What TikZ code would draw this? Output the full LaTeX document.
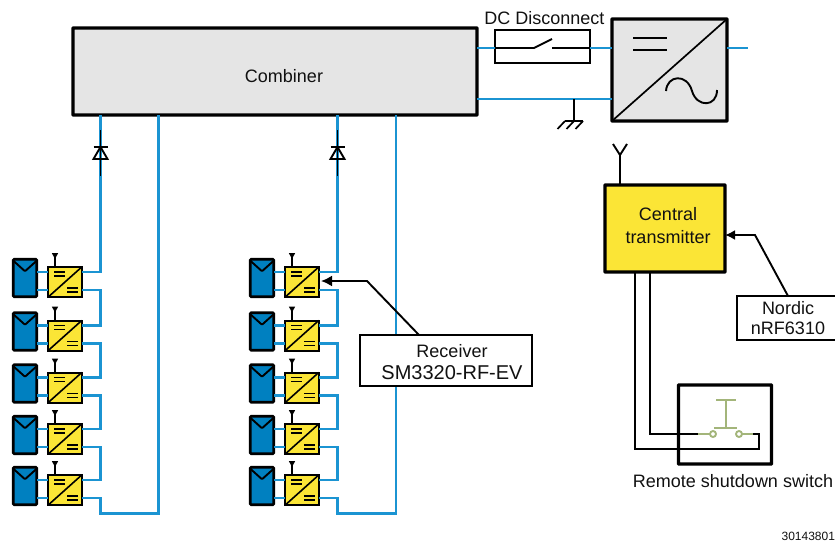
\documentclass[tikz,border=0pt]{standalone}
\usepackage{fontspec}
\setmainfont{Liberation Sans}
\usetikzlibrary{arrows.meta}
\definecolor{wireblue}{HTML}{1B94D2}
\definecolor{panelblue}{HTML}{0080C0}
\definecolor{boxyellow}{HTML}{FBE536}
\definecolor{boxgray}{HTML}{E5E5E5}
\definecolor{switchgreen}{HTML}{A3B57A}
\definecolor{inkblack}{HTML}{111111}
\begin{document}
\begin{tikzpicture}[x=1pt,y=1pt,
  every node/.style={inner sep=0pt,outer sep=0pt,font=\fontsize{18}{22.5}\selectfont,text=inkblack,align=center},
  wire/.style={draw=wireblue,line width=2.4pt},
  blk/.style={draw=black,line width=1.9pt},
  heavybox/.style={draw=black,line width=3.4pt,rounded corners=0.5pt},
  labelbox/.style={draw=black,line width=2.5pt,fill=white},
  pvpanel/.style={draw=black,line width=2.8pt,fill=panelblue,rounded corners=1pt,minimum width=23.5pt,minimum height=37.5pt},
  convbox/.style={draw=black,line width=2pt,fill=boxyellow,minimum width=33.5pt,minimum height=30pt},
  antenna/.pic={
    \draw [black,line width=1.6pt] (0,0) -- (0,13);
    \fill [black] (-3.2,14) -- (3.2,14) -- (0,8) -- cycle;
  },
  diode/.pic={
    \draw [black,line width=1.9pt] (-7,6) -- (7,6);
    \draw [black,line width=1.9pt] (-7,-6) -- (7,-6) -- (0,6) -- cycle;
  }]
\useasboundingbox (0,0) rectangle (835,-541);

% combiner and inverter
\node [heavybox,fill=boxgray,minimum width=404pt,minimum height=87pt] (combiner) at (275,-71.5) {};
\node (combinerlabel) at (284,-76) {Combiner};
\node [heavybox,fill=boxgray,minimum width=115pt,minimum height=102pt] (inverter) at (669.5,-70) {};
\draw [black,line width=1.7pt] (inverter.south west) -- (inverter.north east);
\draw [black,line width=1.9pt] (633,-38) -- (667,-38);
\draw [black,line width=1.9pt] (633,-50) -- (667,-50);
\draw [black,line width=1.9pt] (666,-91) .. controls (667,-75) and (687,-73) .. (692,-91)
  .. controls (697,-108) and (717,-107) .. (717,-90);

% disconnect
\node [draw=black,line width=2.1pt,minimum width=95pt,minimum height=33pt] (disc) at (542.5,-46.5) {};
\node (disclabel) at (544.5,-18) {DC Disconnect};
\coordinate (swa) at (534,-48);
\coordinate (swb) at (552,-39);
\coordinate (swc) at (552,-48);
\draw [black,line width=1.9pt] (disc.west |- swa) -- (swa) -- (swb);
\draw [black,line width=1.9pt] (swc) -- (disc.east |- swc);

% dc side wires
\coordinate (acout) at (748,-48);
\coordinate (gnd) at (574,-121);
\draw [wire] (combiner.east |- swa) -- (disc.west |- swa);
\draw [wire] (disc.east |- swa) -- (inverter.west |- swa);
\draw [wire] (inverter.east |- acout) -- (acout);
\draw [wire] (combiner.east |- 0,-99) -- (inverter.west |- 0,-99);
\draw [black,line width=1.7pt] (gnd |- 0,-99) -- (gnd);
\draw [black,line width=1.7pt] (565,-121) -- (583,-121);
\foreach \hx in {565,574,583}
  \draw [black,line width=1.7pt] (\hx,-121) -- +(-7.5,-8);

% strings of panels
\foreach \c/\px/\cx/\wx/\rx in {a/25/65/100.5/158.5,b/262/302/337.5/396}{
  \foreach \r/\ry in {1/-282,2/-335.5,3/-387.5,4/-439,5/-490}{
    \node [pvpanel] (pv\c\r) at (\px,\ry+4) {};
    \draw [black,line width=1.9pt,rounded corners=1pt] ([xshift=-0.5pt,yshift=-1pt]pv\c\r.north west) -- ([yshift=-12pt]pv\c\r.north) -- ([xshift=0.5pt,yshift=-1pt]pv\c\r.north east);
    \node [convbox] (conv\c\r) at (\cx,\ry) {};
    \draw [black,line width=1.6pt] (conv\c\r.south west) -- (conv\c\r.north east);
    \draw [black,line width=1.6pt] (\cx-11,\ry+10) -- +(11,0) (\cx-11,\ry+6) -- +(11,0);
    \draw [black,line width=1.6pt] (\cx+2,\ry-6) -- +(11,0) (\cx+2,\ry-10) -- +(11,0);
    \pic at (\cx-10,\ry+15) {antenna};
    \draw [wire] (pv\c\r.east |- 0,\ry+10) -- (conv\c\r.west |- 0,\ry+10);
    \draw [wire] (pv\c\r.east |- 0,\ry-8) -- (conv\c\r.west |- 0,\ry-8);
  }
  % links from one module to the next
  \foreach \r/\n in {1/2,2/3,3/4,4/5}
    \draw [wire] ([yshift=-8pt]conv\c\r.east) -| (\wx,0 |- conv\c\n.north) |- ([yshift=10pt]conv\c\n.east);
  \coordinate (end\c) at (\wx,-513.5);
  \coordinate (diode\c) at (\wx,-153);
  \draw [wire] ([yshift=-8pt]conv\c5.east) -| (end\c) -| (\rx,-115);
  \draw [wire] ([yshift=10pt]conv\c1.east) -| (\wx,-115);
  \draw [black,line width=1.9pt] (\wx,-130) -- (\wx,-176);
  \pic at (diode\c) {diode};
}

% receiver
\node [labelbox,minimum width=172pt,minimum height=51pt] (receiver) at (446,-360.5) {};
\node (receiverlabel) at (452,-362) {Receiver\\\fontsize{20}{22.5}\selectfont SM3320-RF-EV};
\coordinate (rxbend) at (367,-281);
\draw [blk,-{Latex[length=11pt,width=11pt]}] (receiver.north -| 419,0) -- (rxbend) -- (321,-281);

% transmitter side
\node [heavybox,fill=boxyellow,minimum width=120pt,minimum height=87pt] (central) at (665,-228.5) {};
\node (centrallabel) at (668,-225.5) {Central\\transmitter};
\node [labelbox,minimum width=102pt,minimum height=44pt] (nordic) at (788,-318) {Nordic\\[-3pt]nRF6310};
\coordinate (txbend) at (755,-235);
\draw [blk,-{Latex[length=10pt,width=10pt]}] (nordic.north) -- (txbend) -- (central.east |- txbend);
\coordinate (txant) at (620,-155);
\draw [black,line width=1.9pt] (central.north -| txant) -- (txant) -- (613,-144) (txant) -- (627,-144);

% shutdown switch
\node [heavybox,minimum width=93pt,minimum height=79pt] (shutdown) at (725,-424.5) {};
\node (shutlabel) at (733,-481) {Remote shutdown switch};
\node [draw=switchgreen,line width=1.9pt,circle,minimum size=6pt] (sw1) at (713,-434) {};
\node [draw=switchgreen,line width=1.9pt,circle,minimum size=6pt] (sw2) at (739,-434) {};
\coordinate (swl) at (698,-434);
\coordinate (swr) at (753,-434);
\draw [switchgreen,line width=1.9pt] (swl) -- (sw1) (sw2) -- (swr);
\draw [switchgreen,line width=1.9pt] (714,-428) -- (737,-428) (726,-428) -- (726,-400) (716,-400) -- (736,-400);
\draw [blk] (central.south -| 650,0) -- (650,-434) -- (swl);
\draw [blk] (central.south -| 635,0) -- (635,-449) -- (759,-449) -- (759,-434) -- (swr);

\node [font=\fontsize{12}{14}\selectfont,anchor=east] (docnum) at (835,-536) {30143801};
\end{tikzpicture}
\end{document}
